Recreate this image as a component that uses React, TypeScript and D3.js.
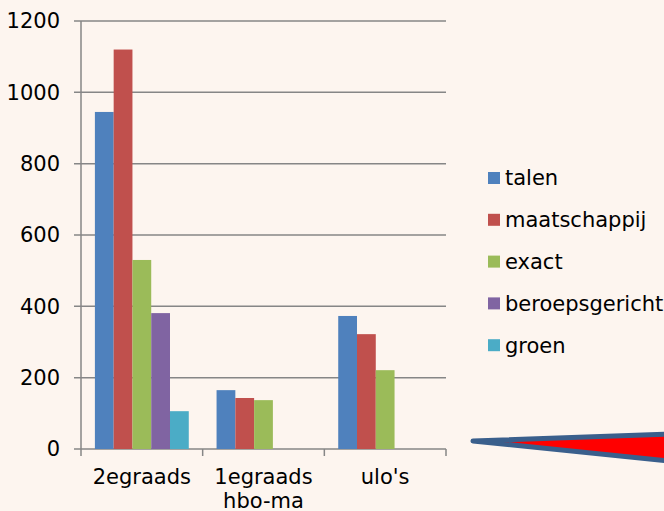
import React from 'react';
import * as d3 from 'd3';

const categories = ['2egraads', '1egraads\nhbo-ma', "ulo's"];
const seriesNames = ['talen', 'maatschappij', 'exact', 'beroepsgericht', 'groen'];
const talen = [945, 165, 373];
const maatschappij = [1120, 143, 322];
const exact = [530, 137, 221];
const beroepsgericht = [381, 0, 0];
const groen = [106, 0, 0];
const yTicks = [0, 200, 400, 600, 800, 1000, 1200];
const colors = ['#4f81bd', '#c0504d', '#9bbb59', '#8064a2', '#4bacc6'];

const W = 664;
const H = 511;
const margin = { top: 21, left: 81, right: 218, bottom: 62 };
const font = 'DejaVu Sans, Verdana, sans-serif';
const fs = 21;

function App() {
  const values = [talen, maatschappij, exact, beroepsgericht, groen];
  const x = d3.scaleBand().domain(categories).range([margin.left, W - margin.right]);
  const inner = d3
    .scaleBand()
    .domain(seriesNames)
    .range([0, x.bandwidth()])
    .paddingOuter(0.74);
  const y = d3.scaleLinear().domain([0, 1200]).range([H - margin.bottom, margin.top]);
  const x0 = margin.left;
  const x1 = W - margin.right;

  return (
    <svg
      width={W}
      height={H}
      style={{ position: 'absolute', left: 0, top: 0, background: '#fdf5ef' }}
    >
      <rect width={W} height={H} fill="#fdf5ef" />
      {yTicks.map((t) => (
        <g key={t}>
          <line x1={x0 - 7} x2={x1} y1={y(t)} y2={y(t)} stroke="#868686" strokeWidth={1.5} />
          <text
            x={60}
            y={y(t)}
            dy="0.35em"
            textAnchor="end"
            fontFamily={font}
            fontSize={fs}
            fill="#000"
          >
            {t}
          </text>
        </g>
      ))}
      {values.map((vals, si) =>
        vals.map((v, ci) =>
          v > 0 ? (
            <rect
              key={`${si}-${ci}`}
              x={(x(categories[ci]) as number) + (inner(seriesNames[si]) as number)}
              y={y(v)}
              width={inner.bandwidth()}
              height={y(0) - y(v)}
              fill={colors[si]}
            />
          ) : null,
        ),
      )}
      <line x1={x0} x2={x0} y1={y(1200)} y2={y(0) + 7} stroke="#868686" strokeWidth={1.5} />
      {categories.map((c) => (
        <line
          key={c}
          x1={(x(c) as number) + x.bandwidth()}
          x2={(x(c) as number) + x.bandwidth()}
          y1={y(0)}
          y2={y(0) + 7}
          stroke="#868686"
          strokeWidth={1.5}
        />
      ))}
      {categories.map((c) => (
        <text
          key={c}
          x={(x(c) as number) + x.bandwidth() / 2}
          y={484}
          textAnchor="middle"
          fontFamily={font}
          fontSize={fs}
          fill="#000"
        >
          {c.split('\n').map((line, i) => (
            <tspan key={i} x={(x(c) as number) + x.bandwidth() / 2} dy={i === 0 ? 0 : 24}>
              {line}
            </tspan>
          ))}
        </text>
      ))}
      {seriesNames.map((s, i) => (
        <g key={s} transform={`translate(488,${178 + i * 41.8})`}>
          <rect x={0} y={-6} width={12} height={12} fill={colors[i]} />
          <text x={17} y={0} dy="0.35em" fontFamily={font} fontSize={fs} fill="#000">
            {s}
          </text>
        </g>
      ))}
      <polygon
        points="473,441 670,434 670,461"
        fill="#ff0000"
        stroke="#3a5f8c"
        strokeWidth={5}
        strokeLinejoin="round"
      />
    </svg>
  );
}

export default App;
